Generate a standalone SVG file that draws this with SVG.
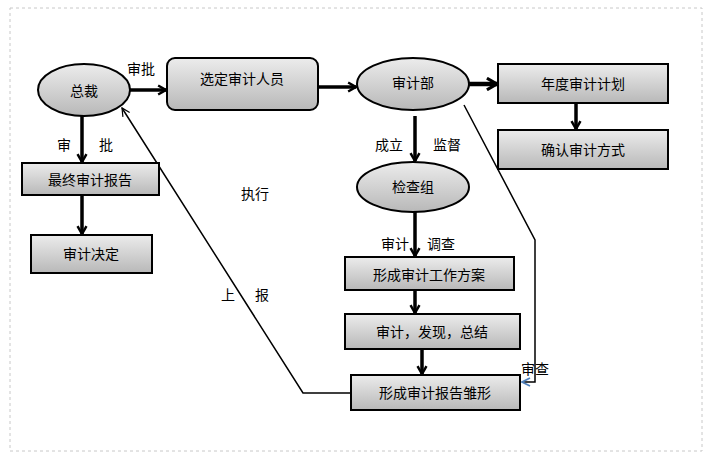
<svg xmlns="http://www.w3.org/2000/svg" width="712" height="459" viewBox="0 0 712 459">
<defs>
<linearGradient id="g" x1="0" y1="0" x2="0" y2="1"><stop offset="0" stop-color="#ececec"/><stop offset="1" stop-color="#b8b8b8"/></linearGradient>
<marker id="a" viewBox="0 0 10 10" refX="8" refY="5" markerWidth="3.2" markerHeight="3.2" orient="auto"><path d="M1,1 L8,5 L1,9" fill="none" stroke="#000" stroke-width="2.2"/></marker>
<marker id="o" viewBox="0 0 10 10" refX="9" refY="5" markerWidth="10" markerHeight="10" orient="auto" markerUnits="userSpaceOnUse"><path d="M1,1 L9,5 L1,9" fill="none" stroke="#000" stroke-width="1.2"/></marker>
<marker id="b" viewBox="0 0 10 10" refX="9" refY="5" markerWidth="10" markerHeight="10" orient="auto" markerUnits="userSpaceOnUse"><path d="M1,1 L9,5 L1,9" fill="none" stroke="#4f81bd" stroke-width="1.8"/></marker>
</defs>
<style>
.n{fill:url(#g);stroke:#000;stroke-width:2}
text{font-family:"Noto Sans CJK SC",sans-serif;font-size:14px;fill:#000}
.c{text-anchor:middle;dominant-baseline:central}
.k{stroke:#000;stroke-width:3.5;fill:none;marker-end:url(#a)}
.t{stroke:#000;stroke-width:1.5;fill:none}
</style>
<rect x="10" y="8" width="692" height="443" fill="#fff" stroke="#c8c8c8" stroke-dasharray="3,3"/>
<g id="connectors">
<line class="k" x1="130" y1="90" x2="166" y2="90"/>
<line class="k" x1="318" y1="87" x2="356" y2="87"/>
<line class="k" x1="469" y1="84" x2="497" y2="84" style="stroke-width:4.5"/>
<line class="k" x1="576" y1="103" x2="576" y2="129"/>
<line class="k" x1="415" y1="116" x2="415" y2="161"/>
<line class="k" x1="415" y1="212" x2="415" y2="256"/>
<line class="k" x1="415" y1="290" x2="415" y2="313"/>
<line class="k" x1="422" y1="349" x2="422" y2="374"/>
<line class="k" x1="82" y1="116" x2="82" y2="162"/>
<line class="k" x1="82" y1="195" x2="82" y2="234"/>
<polyline class="t" points="464,105 535,240 535,382 522,382" style="marker-end:url(#b)"/>
<polyline class="t" points="351,393 303,393 122,108" style="marker-end:url(#o)"/>
</g>
<g id="zongcai"><ellipse class="n" cx="84" cy="90" rx="46" ry="26"/><text class="c" x="84" y="90">总裁</text></g>
<g id="xuanding"><rect class="n" x="167" y="58" width="151" height="52" rx="8"/><text class="c" x="242" y="78">选定审计人员</text></g>
<g id="shenjibu"><ellipse class="n" cx="413" cy="84" rx="56" ry="26"/><text class="c" x="413" y="82">审计部</text></g>
<g id="niandu"><rect class="n" x="498" y="64" width="170" height="39"/><text class="c" x="583" y="83">年度审计计划</text></g>
<g id="queren"><rect class="n" x="498" y="130" width="170" height="39"/><text class="c" x="583" y="149">确认审计方式</text></g>
<g id="jianchazu"><ellipse class="n" cx="413" cy="187" rx="56" ry="25"/><text class="c" x="413" y="186">检查组</text></g>
<g id="fangan"><rect class="n" x="345" y="257" width="169" height="33"/><text class="c" x="429" y="274">形成审计工作方案</text></g>
<g id="faxian"><rect class="n" x="345" y="314" width="175" height="35"/><text class="c" x="432" y="331">审计，发现，总结</text></g>
<g id="chuxing"><rect class="n" x="351" y="375" width="169" height="35"/><text class="c" x="435" y="392">形成审计报告雏形</text></g>
<g id="zuizhong"><rect class="n" x="22" y="163" width="137" height="32"/><text class="c" x="90" y="179">最终审计报告</text></g>
<g id="jueding"><rect class="n" x="31" y="235" width="121" height="38"/><text class="c" x="91" y="253">审计决定</text></g>
<g id="labels">
<text class="c" x="141" y="68">审批</text>
<text class="c" x="64" y="144">审</text>
<text class="c" x="106" y="144">批</text>
<text class="c" x="255" y="193">执行</text>
<text class="c" x="228" y="294">上</text>
<text class="c" x="262" y="294">报</text>
<text class="c" x="389" y="144">成立</text>
<text class="c" x="447" y="144">监督</text>
<text class="c" x="395" y="243">审计</text>
<text class="c" x="441" y="243">调查</text>
<text class="c" x="535" y="368">审查</text>
</g>
</svg>
